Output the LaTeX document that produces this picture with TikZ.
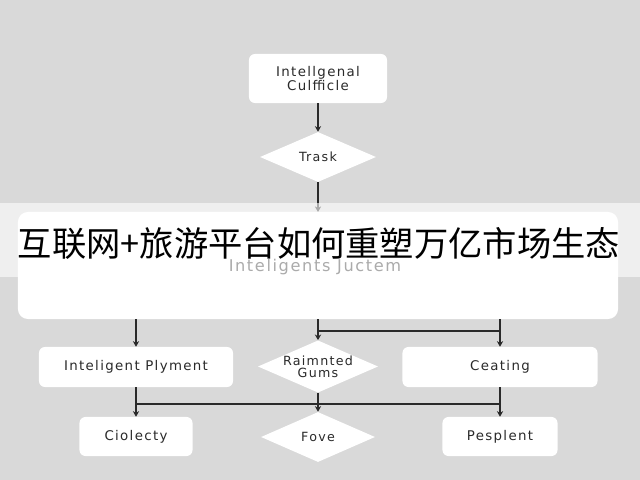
\documentclass[tikz,border=0pt]{standalone}
\usepackage{fontspec}
\setmainfont{DejaVu Sans}[LetterSpace=10]
\newfontfamily\cjk{Noto Sans CJK SC}
\usetikzlibrary{shapes.geometric,arrows.meta}
\definecolor{bggray}{HTML}{D9D9D9}
\definecolor{ink}{HTML}{2A2A2A}
\definecolor{subgray}{HTML}{ABABAB}
\tikzset{
  box/.style={fill=white, rounded corners=1.5mm, inner sep=0pt, text=ink, align=center, font=\fontsize{9.5}{10}\selectfont},
  dia/.style={diamond, aspect=2.3, fill=white, inner sep=0pt, text=ink, align=center, font=\fontsize{9}{8.6}\selectfont},
  ln/.style={draw=ink, line width=0.8pt},
  arr/.style={ln, -{Stealth[length=4pt,width=4.5pt]}}
}
\begin{document}
\begin{tikzpicture}[x=0.025cm, y=-0.025cm]

\fill[bggray] (0,0) rectangle (640,480);
\useasboundingbox (0,0) rectangle (640,480);

\node[box, minimum width=3.45cm, minimum height=1.225cm] (top) at (318,78.5) {Intellgenal\\Culfficle};
\node[dia, minimum width=2.9cm, minimum height=1.25cm] (trask) at (318,157) {Trask};
\draw[arr] (top) -- (trask);
\draw[arr] (trask.south) -- (318,212);

\fill[white, opacity=0.6] (0,203) rectangle (640,277);

\node[box, rounded corners=2.5mm, minimum width=15cm, minimum height=2.675cm] (sys) at (318,265.5) {};
\node[font=\cjk\fontsize{24.4}{26}\selectfont, text=black] (title) at (319,243) {互联网+旅游平台如何重塑万亿市场生态};
\node[font=\fontsize{11.5}{12}\selectfont, text=subgray] (sub) at (315,267) {Inteligents Juctem};

\node[box, minimum width=4.85cm, minimum height=1cm] (pay) at (136,367) {Inteligent Plyment};
\node[dia, minimum width=2.975cm, minimum height=1.275cm] (gums) at (318,366.5) {Raimnted\\Gums};
\node[box, minimum width=4.875cm, minimum height=1cm] (ceat) at (500,367) {Ceating};

\node[box, minimum width=2.825cm, minimum height=0.975cm] (col) at (136,436.5) {Ciolecty};
\node[dia, minimum width=2.85cm, minimum height=1.25cm] (fove) at (318,437) {Fove};
\node[box, minimum width=2.875cm, minimum height=0.975cm] (pesp) at (500,436.5) {Pesplent};

\draw[arr] (sys.south -| pay) -- (pay);
\draw[arr] (sys.south -| gums) -- (gums);
\draw[arr] (sys.south -| ceat) -- (ceat);
\coordinate (m1) at (318,331);
\coordinate (m2) at (500,331);
\draw[ln] (m1) -- (m2);

\draw[arr] (pay) -- (col);
\draw[arr] (gums) -- (fove);
\draw[arr] (ceat) -- (pesp);
\coordinate (b1) at (136,404);
\coordinate (b2) at (500,404);
\draw[ln] (b1) -- (b2);
\end{tikzpicture}
\end{document}
